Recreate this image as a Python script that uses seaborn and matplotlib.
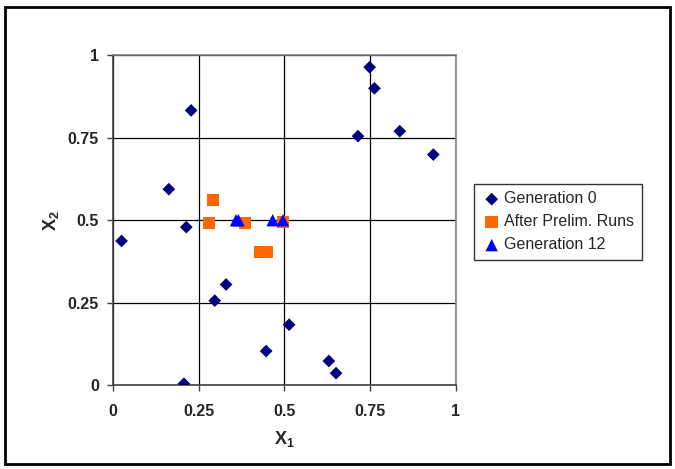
import numpy as np
import pandas as pd
import matplotlib
matplotlib.use("Agg")
import matplotlib.pyplot as plt
import seaborn as sns
from matplotlib.patches import Rectangle

sns.set_style("white")
plt.rcParams['font.family'] = ['Liberation Sans', 'DejaVu Sans']

# Generation 0 points
gen0_x1 = [0.025, 0.163, 0.214, 0.228, 0.207, 0.297, 0.330, 0.447, 0.514, 0.630, 0.651, 0.715, 0.749, 0.763, 0.837, 0.935]
gen0_x2 = [0.437, 0.594, 0.479, 0.833, 0.004, 0.256, 0.305, 0.103, 0.183, 0.073, 0.036, 0.755, 0.964, 0.900, 0.770, 0.699]

# After preliminary runs
prelim_x1 = [0.292, 0.280, 0.385, 0.431, 0.448, 0.496]
prelim_x2 = [0.562, 0.492, 0.492, 0.404, 0.404, 0.494]

# Generation 12
gen12_x1 = [0.359, 0.366, 0.466, 0.496]
gen12_x2 = [0.5, 0.5, 0.5, 0.5]

series_names = ["Generation 0", "After Prelim. Runs", "Generation 12"]
tick_vals = [0, 0.25, 0.5, 0.75, 1]
tick_labels = ["0", "0.25", "0.5", "0.75", "1"]

df = pd.concat([
    pd.DataFrame({"x1": gen0_x1, "x2": gen0_x2, "series": series_names[0]}),
    pd.DataFrame({"x1": prelim_x1, "x2": prelim_x2, "series": series_names[1]}),
    pd.DataFrame({"x1": gen12_x1, "x2": gen12_x2, "series": series_names[2]}),
], ignore_index=True)

palette = {series_names[0]: "#000080", series_names[1]: "#FF6600", series_names[2]: "#0000FF"}
markers = {series_names[0]: "D", series_names[1]: "s", series_names[2]: "^"}
sizes = {series_names[0]: 42, series_names[1]: 80, series_names[2]: 80}

fig = plt.figure(figsize=(6.75, 4.69), dpi=100)
ax = fig.add_axes([0.1674, 0.179, 0.5076, 0.703])

for name in series_names:
    sub = df[df["series"] == name]
    sns.scatterplot(data=sub, x="x1", y="x2", color=palette[name], marker=markers[name],
                    s=sizes[name], edgecolor="none", linewidth=0, ax=ax, label=name, zorder=3)

ax.set_xlim(0, 1)
ax.set_ylim(0, 1)
ax.set_xticks(tick_vals)
ax.set_yticks(tick_vals)
ax.set_xticklabels(tick_labels, fontsize=11.5, fontweight="bold")
ax.set_yticklabels(tick_labels, fontsize=11.5, fontweight="bold")
ax.tick_params(axis="both", direction="out", length=4, width=1, color="#404040")
ax.tick_params(axis="x", bottom=True, pad=10)
ax.tick_params(axis="y", left=True, pad=6)

ax.grid(True, color="black", linewidth=0.9)
ax.set_axisbelow(True)
for side in ["top", "right"]:
    ax.spines[side].set_color("#808080")
    ax.spines[side].set_linewidth(1.2)
for side in ["left", "bottom"]:
    ax.spines[side].set_color("#404040")
    ax.spines[side].set_linewidth(1.2)

ax.set_xlabel(r"$\mathregular{X_1}$", fontsize=13, fontweight="bold", labelpad=7)
ax.set_ylabel(r"$\mathregular{X_2}$", fontsize=13, fontweight="bold", labelpad=5)

leg = ax.legend(loc="center left", bbox_to_anchor=(1.054, 0.495), frameon=True, fancybox=False,
                fontsize=11.5, handletextpad=0.15, borderpad=0.45, labelspacing=0.5,
                handlelength=1.3, borderaxespad=0)
leg.get_frame().set_edgecolor("black")
leg.get_frame().set_linewidth(1.0)

fig.patches.append(Rectangle((0.008, 0.01), 0.984, 0.975, transform=fig.transFigure,
                             fill=False, edgecolor="black", linewidth=2))

fig.savefig("out.png", dpi=100)
